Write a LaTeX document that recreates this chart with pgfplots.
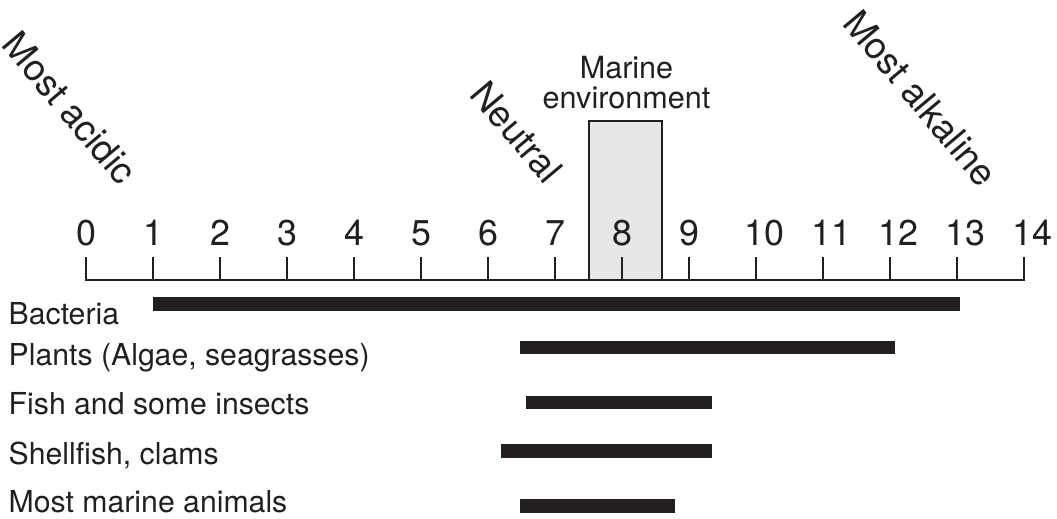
\documentclass[border=0pt]{standalone}
\usepackage{pgfplots}
\pgfplotsset{compat=1.18}
\usepackage{fontspec}
\setmainfont{TeX Gyre Heros}
\definecolor{ink}{HTML}{231F20}
\definecolor{boxfill}{HTML}{E6E7E8}
\begin{document}
\begin{tikzpicture}
\begin{axis}[
  scale only axis, width=10.57cm, height=5.18cm,
  xmin=-1.2836, xmax=14.4925, ymin=0, ymax=518, y dir=reverse,
  hide axis, clip=false,
]
% marine environment box
\addplot[draw=ink, line width=0.2mm, fill=boxfill] coordinates {(7.5,280) (7.5,121) (8.6,121) (8.6,280)} -- cycle;
% axis line
\addplot[ink, line width=0.2mm, line cap=rect] coordinates {(0,280) (14,280)};
% ticks
\pgfplotsinvokeforeach{0,...,14}{
  \addplot[ink, line width=0.16mm] coordinates {(#1,257) (#1,280)};
}
\pgfplotsinvokeforeach{0,...,9}{
  \node[anchor=base, font=\fontsize{10.2pt}{12pt}\selectfont, text=ink, inner sep=0pt] at (axis cs:#1,245.5) {#1};
}
\pgfplotsinvokeforeach{10,...,14}{
  \node[anchor=base, font=\fontsize{10.2pt}{12pt}\selectfont, text=ink, inner sep=0pt] at (axis cs:#1+0.12,245.5) {#1};
}
% bars
\addplot[ink, line width=1.35mm] coordinates {(1,304) (13.05,304)};
\addplot[ink, line width=1.35mm] coordinates {(6.48,347.5) (12.07,347.5)};
\addplot[ink, line width=1.35mm] coordinates {(6.57,402.7) (9.34,402.7)};
\addplot[ink, line width=1.35mm] coordinates {(6.2,451) (9.34,451)};
\addplot[ink, line width=1.35mm] coordinates {(6.48,506) (8.79,506)};
% row labels
\begin{scope}[every node/.style={anchor=base west, inner sep=0pt, text=ink, font=\fontsize{8.6pt}{10pt}\selectfont}]
\node at (axis cs:-1.164,324.3) {Bacteria};
\node at (axis cs:-1.164,365.7) {Plants (Algae, seagrasses)};
\node at (axis cs:-1.164,414) {Fish and some insects};
\node at (axis cs:-1.164,464.5) {Shellfish, clams};
\node at (axis cs:-1.164,512.7) {Most marine animals};
\end{scope}
% marine environment label
\node[anchor=base, inner sep=0pt, text=ink, font=\fontsize{8.7pt}{10pt}\selectfont] at (axis cs:8.067,78) {Marine};
\node[anchor=base, inner sep=0pt, text=ink, font=\fontsize{8.7pt}{10pt}\selectfont] at (axis cs:8.067,108) {environment};
% rotated labels
\begin{scope}[every node/.style={anchor=center, inner sep=0pt, text=ink, rotate=-50, font=\fontsize{10.5pt}{12pt}\selectfont}]
\node at (axis cs:-0.239,108) {Most acidic};
\node at (axis cs:6.433,132) {Neutral};
\node at (axis cs:12.46,98) {Most alkaline};
\end{scope}
\end{axis}
\pgfresetboundingbox
\path (current axis.south west) rectangle (current axis.north east);
\end{tikzpicture}
\end{document}
